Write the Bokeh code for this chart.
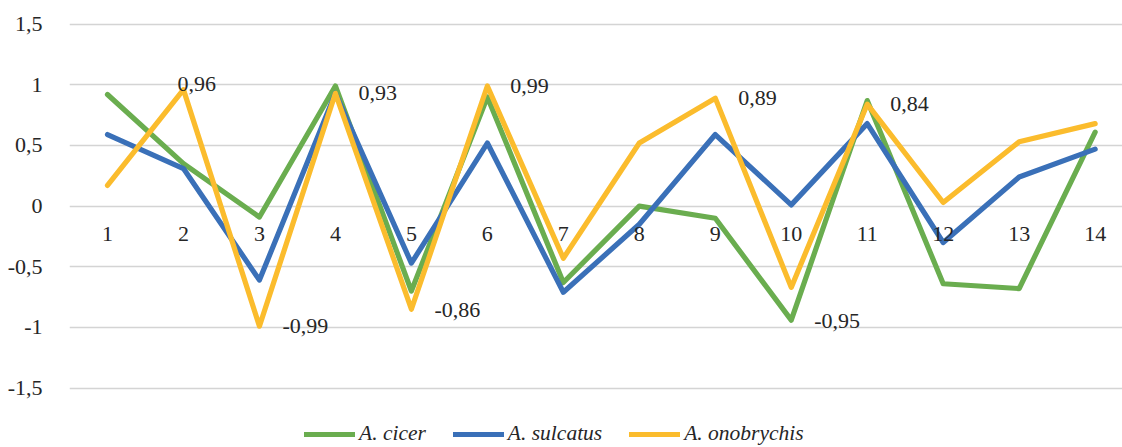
from bokeh.plotting import figure
from bokeh.models import ColumnDataSource, FixedTicker, CustomJSTickFormatter, Legend, LegendItem, Range1d
from bokeh.core.properties import value
from bokeh.embed import file_html
from bokeh.resources import INLINE

categories = list(range(1, 15))
cat_labels = [str(c) for c in categories]
a_cicer = [0.92, 0.35, -0.09, 0.99, -0.70, 0.90, -0.63, 0.00, -0.10, -0.94, 0.87, -0.64, -0.68, 0.61]
a_sulcatus = [0.59, 0.31, -0.61, 0.93, -0.47, 0.52, -0.71, -0.15, 0.59, 0.01, 0.68, -0.30, 0.24, 0.47]
a_onobrychis = [0.17, 0.96, -0.99, 0.93, -0.85, 0.99, -0.43, 0.52, 0.89, -0.67, 0.84, 0.03, 0.53, 0.68]
series_names = ["A. cicer", "A. sulcatus", "A. onobrychis"]
series_colors = ["#6AAD4F", "#3A70B8", "#FBBC2D"]

ann_x = [2, 3, 4, 5, 6, 9, 10, 11]
ann_y = [0.96, -0.99, 0.93, -0.86, 0.99, 0.89, -0.95, 0.84]
ann_text = ["0,96", "-0,99", "0,93", "-0,86", "0,99", "0,89", "-0,95", "0,84"]
ann_dx = [-6, 23, 23, 23, 23, 23, 23, 23]
ann_dy = [-6, 0, 0, 0, 0, 0, 0, 0]

y_ticks = [-1.5, -1, -0.5, 0, 0.5, 1, 1.5]

FONT = "Liberation Serif"
TXT = "#262626"

p = figure(width=1122, height=447, output_backend="svg", toolbar_location=None,
           x_range=Range1d(0.5, 14.36), y_range=Range1d(-1.99, 1.695),
           min_border_left=69, min_border_right=0, min_border_top=0, min_border_bottom=0)
p.outline_line_color = None
p.background_fill_color = "white"
p.border_fill_color = "white"

p.xaxis.visible = False
p.xgrid.visible = False
p.ygrid.grid_line_color = "#D4D4D4"
p.ygrid.grid_line_width = 1.6
p.yaxis.ticker = FixedTicker(ticks=y_ticks)
p.yaxis.formatter = CustomJSTickFormatter(code="return tick.toString().replace('.', ',');")
p.yaxis.axis_line_color = None
p.yaxis.major_tick_line_color = None
p.yaxis.minor_tick_line_color = None
p.yaxis.major_label_standoff = 21
p.yaxis.major_label_text_font = FONT
p.yaxis.major_label_text_font_size = "22px"
p.yaxis.major_label_text_color = TXT

renderers = []
for name, ys, col in zip(series_names, [a_cicer, a_sulcatus, a_onobrychis], series_colors):
    src = ColumnDataSource(dict(x=categories, y=ys))
    r = p.line("x", "y", source=src, line_color=col, line_width=5.2,
               line_cap="round", line_join="round")
    renderers.append((name, r))

# category labels along the zero line
cat_src = ColumnDataSource(dict(x=categories, y=[0] * len(categories), t=cat_labels))
p.text("x", "y", text="t", source=cat_src, text_font=value(FONT), text_font_size="22px",
       text_color=TXT, text_align="center", text_baseline="middle", y_offset=28)

ann_src = ColumnDataSource(dict(x=ann_x, y=ann_y, t=ann_text, dx=ann_dx, dy=ann_dy))
p.text("x", "y", text="t", source=ann_src, text_font=value(FONT), text_font_size="22px",
       text_color=TXT, text_align="left", text_baseline="middle", x_offset="dx", y_offset="dy")

legend = Legend(items=[LegendItem(label=n, renderers=[r]) for n, r in renderers],
                orientation="horizontal", location=(235, 1))
legend.border_line_color = None
legend.background_fill_alpha = 0
legend.padding = 0
legend.margin = 0
legend.glyph_width = 51
legend.glyph_height = 20
legend.label_standoff = 4
legend.spacing = 27
legend.label_text_font = FONT
legend.label_text_font_style = "italic"
legend.label_text_font_size = "21.5px"
legend.label_text_color = TXT
p.add_layout(legend, "center")

open("out.html", "w").write(file_html(p, INLINE))
